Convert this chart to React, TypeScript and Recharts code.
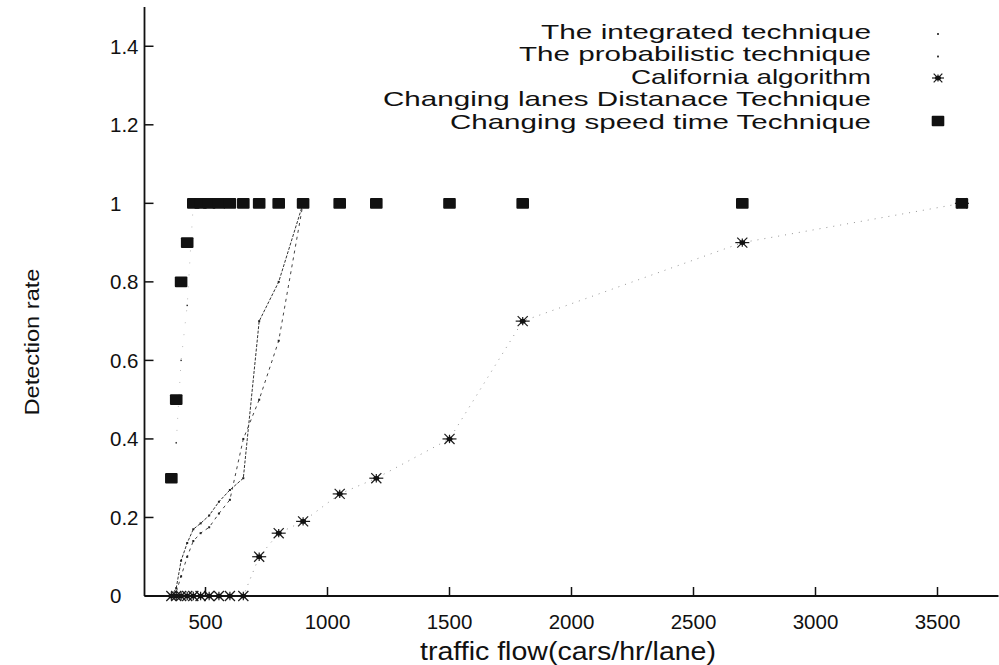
import React from 'react';
import { LineChart, Line, XAxis, YAxis, Legend } from 'recharts';

// traffic flow (cars/hr/lane)
const flow = [360, 380, 400, 425, 450, 480, 515, 555, 600, 655, 720, 800, 900, 1050, 1200, 1500, 1800, 2700, 3600];
const flowShort = [360, 380, 400, 425, 450, 480, 515, 555, 600, 655, 720, 800, 900];
const flowLanes = [380, 400, 425, 450];

const integrated = [0, 0.02, 0.09, 0.135, 0.17, 0.185, 0.205, 0.24, 0.27, 0.3, 0.7, 0.8, 1];
const probabilistic = [0, 0.01, 0.05, 0.1, 0.14, 0.16, 0.175, 0.21, 0.245, 0.4, 0.5, 0.65, 1];
const california = [0, 0, 0, 0, 0, 0, 0, 0, 0, 0, 0.1, 0.16, 0.19, 0.26, 0.3, 0.4, 0.7, 0.9, 1];
const lanesDistance = [0.39, 0.6, 0.74, 1];
const speedTime = [0.3, 0.5, 0.8, 0.9, 1, 1, 1, 1, 1, 1, 1, 1, 1, 1, 1, 1, 1, 1, 1];

const xTicks = [500, 1000, 1500, 2000, 2500, 3000, 3500];
const yTicks = [0, 0.2, 0.4, 0.6, 0.8, 1, 1.2, 1.4];

const seriesNames = [
  'The integrated technique',
  'The probabilistic technique',
  'California algorithm',
  'Changing lanes Distanace Technique',
  'Changing speed time Technique',
];

const zip = (xs: number[], ys: number[]) => xs.map((x, i) => ({ x, y: ys[i] }));

const INK = '#111';
const FONT = '"Liberation Sans", Arial, Helvetica, sans-serif';
const NARROW = '"Liberation Sans Narrow", "Liberation Sans", Arial, sans-serif';
const TICK_LEN = 9;
const Y_TICK_MARGIN = 33.5;
const X_TICK_MARGIN = 26;

// gnuplot style "*" point: + and x on top of each other
function Star({ cx, cy, arm = 7 }: any) {
  if (cx == null || cy == null) return null;
  const d = arm * 0.72;
  return (
    <g stroke="#1a1a1a" strokeWidth={1.2}>
      <line x1={cx - arm} x2={cx + arm} y1={cy} y2={cy} />
      <line x1={cx} x2={cx} y1={cy - arm * 0.6} y2={cy + arm * 0.6} />
      <line x1={cx - d} x2={cx + d} y1={cy - d} y2={cy + d} />
      <line x1={cx - d} x2={cx + d} y1={cy + d} y2={cy - d} />
      <ellipse cx={cx} cy={cy} rx={3} ry={2.3} fill="#111" stroke="none" />
    </g>
  );
}

function Square({ cx, cy }: any) {
  if (cx == null || cy == null) return null;
  return <rect x={cx - 6.3} y={cy - 5.3} width={12.6} height={10.6} rx={1} fill={INK} />;
}

function Speck({ cx, cy, half = 0.9 }: any) {
  if (cx == null || cy == null) return null;
  return <rect x={cx - half} y={cy - half} width={half * 2} height={half * 2} fill="#222" />;
}

function LeftTick({ x, y, payload }: any) {
  const ax = x + Y_TICK_MARGIN;
  return (
    <g>
      <line x1={ax} x2={ax + TICK_LEN} y1={y} y2={y} stroke={INK} strokeWidth={1.5} />
      <text x={x - 1} y={y} dy="0.36em" textAnchor="start" fontFamily={FONT} fontSize={20.5} fill={INK}>
        {String(payload.value)}
      </text>
    </g>
  );
}

function BottomTick({ x, y, payload }: any) {
  const ay = y - X_TICK_MARGIN;
  return (
    <g>
      <line x1={x} x2={x} y1={ay} y2={ay - TICK_LEN} stroke={INK} strokeWidth={1.5} />
      <text x={x} y={y} dy="0.36em" textAnchor="middle" fontFamily={FONT} fontSize={20.5} fill={INK}>
        {String(payload.value)}
      </text>
    </g>
  );
}

function TopTick({ x, y }: any) {
  return <line x1={x} x2={x} y1={y} y2={y + TICK_LEN} stroke={INK} strokeWidth={1.5} />;
}

function RightTick({ x, y }: any) {
  return <line x1={x} x2={x - TICK_LEN} y1={y} y2={y} stroke={INK} strokeWidth={1.5} />;
}

const legendRows: Record<string, { cy: number; len: number; marker: string }> = {
  'The integrated technique': { cy: 31, len: 330, marker: 'speck' },
  'The probabilistic technique': { cy: 53.5, len: 352, marker: 'speck' },
  'California algorithm': { cy: 76, len: 240, marker: 'star' },
  'Changing lanes Distanace Technique': { cy: 98.5, len: 488, marker: 'none' },
  'Changing speed time Technique': { cy: 121, len: 421, marker: 'square' },
};

function KeyBox({ payload }: any) {
  const entries = (payload || []).map((p: any) => p.value as string);
  const names = entries.length ? entries : seriesNames;
  return (
    <svg width={999} height={140} style={{ display: 'block' }}>
      {names.map((name: string) => {
        const row = legendRows[name];
        if (!row) return null;
        return (
          <g key={name}>
            <text
              x={871}
              y={row.cy}
              dy="0.36em"
              textAnchor="end"
              fontFamily={FONT}
              fontSize={21}
              fill={INK}
              textLength={row.len}
              lengthAdjust="spacingAndGlyphs"
            >
              {name}
            </text>
            {row.marker === 'speck' && <Speck cx={938} cy={row.cy + 3} half={0.9} />}
            {row.marker === 'star' && <Star cx={938} cy={row.cy + 2} arm={6} />}
            {row.marker === 'square' && <Square cx={938} cy={row.cy} />}
          </g>
        );
      })}
    </svg>
  );
}

export default function App() {
  return (
    <div
      style={{
        position: 'absolute',
        left: 0,
        top: 0,
        width: 999,
        height: 665,
        overflow: 'hidden',
        background: '#fff',
      }}
    >
      <LineChart width={1005} height={665} margin={{ top: 7, right: 6.5, bottom: 0, left: 0 }}>
        <XAxis
          dataKey="x"
          type="number"
          domain={[250, 3750]}
          ticks={xTicks}
          interval={0}
          height={69}
          tickSize={0}
          tickMargin={X_TICK_MARGIN}
          tick={<BottomTick />}
          axisLine={{ stroke: INK, strokeWidth: 1.8 }}
          tickLine={false}
          label={{
            content: () => (
              <text
                x={568}
                y={651}
                dy="0.36em"
                textAnchor="middle"
                fontFamily={NARROW}
                fontSize={25}
                fill={INK}
                textLength={296}
                lengthAdjust="spacingAndGlyphs"
              >
                traffic flow(cars/hr/lane)
              </text>
            ),
          }}
        />
        <XAxis
          xAxisId="top"
          orientation="top"
          dataKey="x"
          type="number"
          domain={[250, 3750]}
          ticks={xTicks}
          interval={0}
          height={0}
          tickSize={0}
          tickMargin={0}
          tick={<TopTick />}
          axisLine={{ stroke: INK, strokeWidth: 1.5 }}
          tickLine={false}
        />
        <YAxis
          type="number"
          domain={[0, 1.5]}
          ticks={yTicks}
          interval={0}
          width={144.5}
          tickSize={0}
          tickMargin={Y_TICK_MARGIN}
          tick={<LeftTick />}
          axisLine={{ stroke: INK, strokeWidth: 1.8 }}
          tickLine={false}
          label={{
            content: () => (
              <text
                x={31}
                y={342}
                dy="0.36em"
                textAnchor="middle"
                transform="rotate(-90 31 342)"
                fontFamily={NARROW}
                fontSize={21}
                fill={INK}
                textLength={147}
                lengthAdjust="spacingAndGlyphs"
              >
                Detection rate
              </text>
            ),
          }}
        />
        <YAxis
          yAxisId="right"
          orientation="right"
          type="number"
          domain={[0, 1.5]}
          ticks={yTicks}
          interval={0}
          width={0}
          tickSize={0}
          tickMargin={0}
          tick={<RightTick />}
          axisLine={{ stroke: INK, strokeWidth: 1.5 }}
          tickLine={false}
        />
        <Legend
          layout="vertical"
          align="center"
          verticalAlign="middle"
          content={<KeyBox />}
          wrapperStyle={{ position: 'absolute', left: 0, top: 0, width: 999, height: 140, pointerEvents: 'none' }}
        />
        <Line
          name={seriesNames[3]}
          data={zip(flowLanes, lanesDistance)}
          dataKey="y"
          stroke="#aaa"
          strokeWidth={0.8}
          strokeDasharray="1 11"
          dot={<Speck half={0.7} />}
          isAnimationActive={false}
        />
        <Line
          name={seriesNames[0]}
          data={zip(flowShort, integrated)}
          dataKey="y"
          stroke="#333"
          strokeWidth={1}
          strokeDasharray="3 1.5"
          dot={<Speck half={1} />}
          isAnimationActive={false}
        />
        <Line
          name={seriesNames[1]}
          data={zip(flowShort, probabilistic)}
          dataKey="y"
          stroke="#444"
          strokeWidth={1}
          strokeDasharray="3 4"
          dot={<Speck half={1} />}
          isAnimationActive={false}
        />
        <Line
          name={seriesNames[2]}
          data={zip(flow, california)}
          dataKey="y"
          stroke="#888"
          strokeWidth={0.9}
          strokeDasharray="1 6"
          dot={<Star />}
          isAnimationActive={false}
        />
        <Line
          name={seriesNames[4]}
          data={zip(flow, speedTime)}
          dataKey="y"
          stroke="none"
          dot={<Square />}
          isAnimationActive={false}
        />
      </LineChart>
    </div>
  );
}
